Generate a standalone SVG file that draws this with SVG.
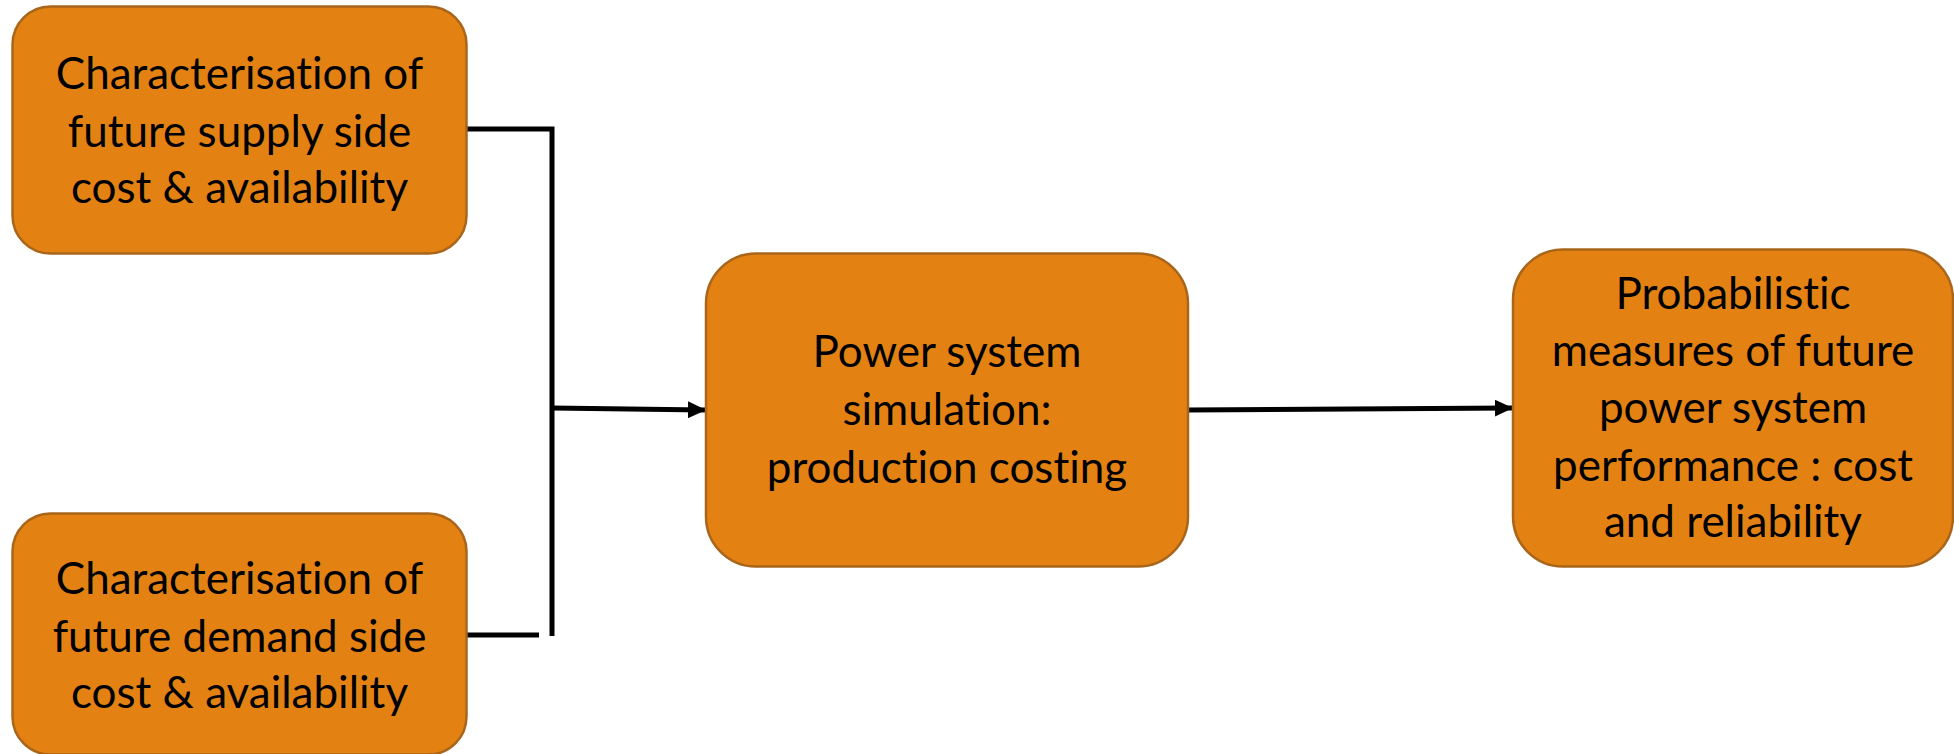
<svg xmlns="http://www.w3.org/2000/svg" width="1954" height="754" viewBox="0 0 1954 754">
<style>
.box{fill:#E38213;stroke:#A9651A;stroke-width:2.5}
.t{font-family:Lato,"Liberation Sans",sans-serif;font-size:44px;fill:#000;text-anchor:middle;font-variant-ligatures:none;font-feature-settings:"liga" 0}
.c{fill:none;stroke:#000;stroke-width:5}
</style>
<defs>
<marker id="ah" markerWidth="18" markerHeight="17" refX="17" refY="8.5" orient="auto" markerUnits="userSpaceOnUse">
<path d="M0,0 L18,8.5 L0,17 Z" fill="#000"/>
</marker>
</defs>
<g id="connectors">
<path class="c" d="M466,129 H552 V636"/>
<path class="c" d="M466,635 H539"/>
<path class="c" d="M552,408 L705,410" marker-end="url(#ah)"/>
<path class="c" d="M1188,410 L1512,408" marker-end="url(#ah)"/>
</g>
<g id="supply">
<rect class="box" x="12.5" y="6.5" width="454" height="247" rx="38"/>
<text class="t"><tspan x="239.5" y="89">Characterisation of</tspan><tspan x="239.5" y="147">future supply side</tspan><tspan x="239.5" y="203">cost &amp; availability</tspan></text>
</g>
<g id="demand">
<rect class="box" x="12.5" y="513.5" width="454" height="241" rx="38"/>
<text class="t"><tspan x="239.5" y="594">Characterisation of</tspan><tspan x="239.5" y="652">future demand side</tspan><tspan x="239.5" y="708">cost &amp; availability</tspan></text>
</g>
<g id="simulation">
<rect class="box" x="706" y="253.5" width="482" height="313" rx="50"/>
<text class="t"><tspan x="947" y="367">Power system</tspan><tspan x="947" y="425">simulation:</tspan><tspan x="947" y="483">production costing</tspan></text>
</g>
<g id="measures">
<rect class="box" x="1513" y="249.5" width="440" height="317" rx="50"/>
<text class="t"><tspan x="1733" y="309">Probabilistic</tspan><tspan x="1733" y="366">measures of future</tspan><tspan x="1733" y="423">power system</tspan><tspan x="1733" y="481">performance : cost</tspan><tspan x="1733" y="537">and reliability</tspan></text>
</g>
</svg>
